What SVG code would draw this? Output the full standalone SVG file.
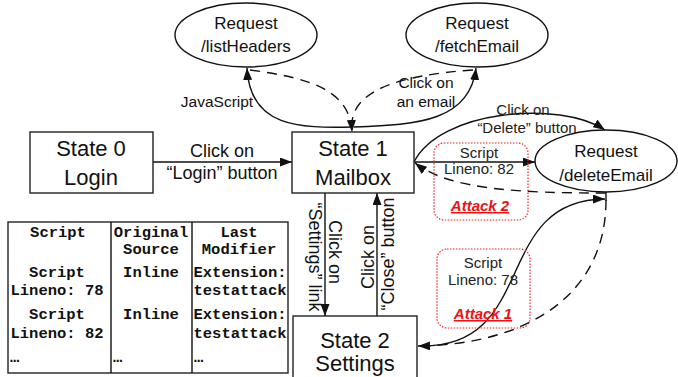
<svg xmlns="http://www.w3.org/2000/svg" width="678" height="377" viewBox="0 0 678 377">
  <style>
    .box { fill: #fff; stroke: #222; stroke-width: 1.4; }
    .ell { fill: #fff; stroke: #111; stroke-width: 1.4; }
    .st { font-family: "Liberation Sans", Arial, sans-serif; font-size: 22px; fill: #111; text-anchor: middle; }
    .req { font-family: "Liberation Sans", Arial, sans-serif; font-size: 17px; fill: #111; text-anchor: middle; }
    .lbl { font-family: "Liberation Sans", Arial, sans-serif; font-size: 15.5px; fill: #111; text-anchor: middle; }
    .lbl18 { font-family: "Liberation Sans", Arial, sans-serif; font-size: 18px; fill: #111; text-anchor: middle; }
    .sc { font-family: "Liberation Sans", Arial, sans-serif; font-size: 15px; fill: #222; text-anchor: middle; }
    .atk { font-family: "Liberation Sans", Arial, sans-serif; font-size: 15px; font-weight: bold; font-style: italic; fill: #ee1111; text-anchor: middle; text-decoration: underline; }
    .abox { fill: none; stroke: #ee2222; stroke-width: 1.2; stroke-dasharray: 1.5 1.5; }
    .ln { fill: none; stroke: #111; stroke-width: 1.4; }
    .dash { fill: none; stroke: #111; stroke-width: 1.4; stroke-dasharray: 10 7; }
    .arr { marker-end: url(#ah); }
    .tb { font-family: "Liberation Mono", "Courier New", monospace; font-size: 15.5px; font-weight: bold; fill: #111; }
    .tbc { text-anchor: middle; }
  </style>
  <defs>
    <marker id="ah" markerUnits="userSpaceOnUse" markerWidth="13" markerHeight="9" refX="12" refY="4.5" orient="auto">
      <path d="M0,0 L12,4.5 L0,9 z" fill="#111"/>
    </marker>
  </defs>

  <!-- connectors -->
  <g id="connectors">
    <!-- login -->
    <line class="ln arr" x1="153" y1="162" x2="292" y2="162"/>
    <!-- mailbox <-> listHeaders -->
    <path class="ln arr" d="M352,127 C300,128 250,128 247,68"/>
    <path class="dash arr" d="M250,70 C310,78 350,90 352,132"/>
    <!-- mailbox <-> fetchEmail -->
    <path class="ln arr" d="M354,127 C420,125 470,120 476,68"/>
    <path class="dash" d="M473,70 C400,75 355,90 352,122"/>
    <!-- mailbox -> deleteEmail via Delete button -->
    <path class="ln arr" d="M414,162 C440,110 560,100 605,130"/>
    <!-- script lineno 82 -->
    <line class="ln arr" x1="414" y1="162" x2="535" y2="162"/>
    <path class="dash arr" d="M606,193 C520,193 450,190 415,163"/>
    <line class="ln" x1="606" y1="192" x2="606" y2="201"/>
    <!-- script lineno 78 -->
    <path class="ln arr" d="M418,346 C540,350 490,200 605,199"/>
    <path class="dash arr" d="M606,200 C606,300 520,345 418,346"/>
    <!-- mailbox <-> settings -->
    <line class="ln arr" x1="325" y1="193" x2="325" y2="316"/>
    <line class="ln arr" x1="377" y1="316" x2="377" y2="193"/>
  </g>

  <!-- connector labels -->
  <g id="labels">
    <text class="lbl" x="217" y="107">JavaScript</text>
    <text class="lbl" x="426" y="88">Click on</text>
    <text class="lbl" x="426" y="107">an email</text>
    <text class="lbl18" x="222" y="157">Click on</text>
    <text class="lbl18" x="222" y="179">“Login” button</text>
    <text class="sc" x="523" y="115">Click on</text>
    <text class="sc" x="527" y="133">“Delete” button</text>
    <text class="lbl18" transform="translate(329,252) rotate(90)">Click on</text>
    <text class="lbl18" transform="translate(309,257) rotate(90)">“Settings” link</text>
    <text class="lbl18" transform="translate(374,257) rotate(-90)">Click on</text>
    <text class="lbl18" transform="translate(394,254) rotate(-90)">“Close” button</text>
  </g>

  <g id="attack2">
    <rect class="abox" x="434" y="143" width="94" height="77" rx="10"/>
    <text class="sc" x="479" y="158">Script</text>
    <text class="sc" x="479" y="174">Lineno: 82</text>
    <text class="atk" x="480" y="211">Attack 2</text>
  </g>
  <g id="attack1">
    <rect class="abox" x="437" y="249" width="93" height="79" rx="10"/>
    <text class="sc" x="483" y="268">Script</text>
    <text class="sc" x="483" y="285">Lineno: 78</text>
    <text class="atk" x="483" y="319">Attack 1</text>
  </g>

  <g id="listHeaders">
    <ellipse class="ell" cx="246" cy="35" rx="71" ry="32"/>
    <text class="req" x="246" y="29">Request</text>
    <text class="req" x="246" y="52">/listHeaders</text>
  </g>
  <g id="fetchEmail">
    <ellipse class="ell" cx="477" cy="35" rx="71" ry="32"/>
    <text class="req" x="477" y="29">Request</text>
    <text class="req" x="477" y="52">/fetchEmail</text>
  </g>
  <g id="deleteEmail">
    <ellipse class="ell" cx="606" cy="161" rx="71" ry="31"/>
    <text class="req" x="606" y="157">Request</text>
    <text class="req" x="606" y="181">/deleteEmail</text>
  </g>

  <g id="state0">
    <rect class="box" x="30" y="132" width="123" height="61"/>
    <text class="st" x="91" y="156">State 0</text>
    <text class="st" x="91" y="185">Login</text>
  </g>
  <g id="state1">
    <rect class="box" x="292" y="132" width="122" height="61"/>
    <text class="st" x="353" y="156">State 1</text>
    <text class="st" x="353" y="185">Mailbox</text>
  </g>
  <g id="state2">
    <rect class="box" x="293" y="316" width="124" height="64"/>
    <text class="st" x="355" y="348">State 2</text>
    <text class="st" x="355" y="371">Settings</text>
  </g>

  <g id="table">
    <rect class="box" x="8" y="222" width="280" height="151"/>
    <line class="ln" x1="111" y1="222" x2="111" y2="373"/>
    <line class="ln" x1="192" y1="222" x2="192" y2="373"/>
    <text class="tb tbc" x="58" y="237">Script</text>
    <text class="tb tbc" x="151" y="237">Original</text>
    <text class="tb tbc" x="151" y="254">Source</text>
    <text class="tb tbc" x="239" y="237">Last</text>
    <text class="tb tbc" x="239" y="254">Modifier</text>
    <text class="tb tbc" x="57" y="277">Script</text>
    <text class="tb tbc" x="57" y="295">Lineno: 78</text>
    <text class="tb tbc" x="151" y="277">Inline</text>
    <text class="tb tbc" x="240" y="277">Extension:</text>
    <text class="tb tbc" x="240" y="295">testattack</text>
    <text class="tb tbc" x="57" y="319">Script</text>
    <text class="tb tbc" x="57" y="338">Lineno: 82</text>
    <text class="tb tbc" x="151" y="319">Inline</text>
    <text class="tb tbc" x="240" y="319">Extension:</text>
    <text class="tb tbc" x="240" y="338">testattack</text>
    <text class="tb" x="10" y="362">…</text>
    <text class="tb" x="113" y="362">…</text>
    <text class="tb" x="194" y="362">…</text>
  </g>
</svg>
